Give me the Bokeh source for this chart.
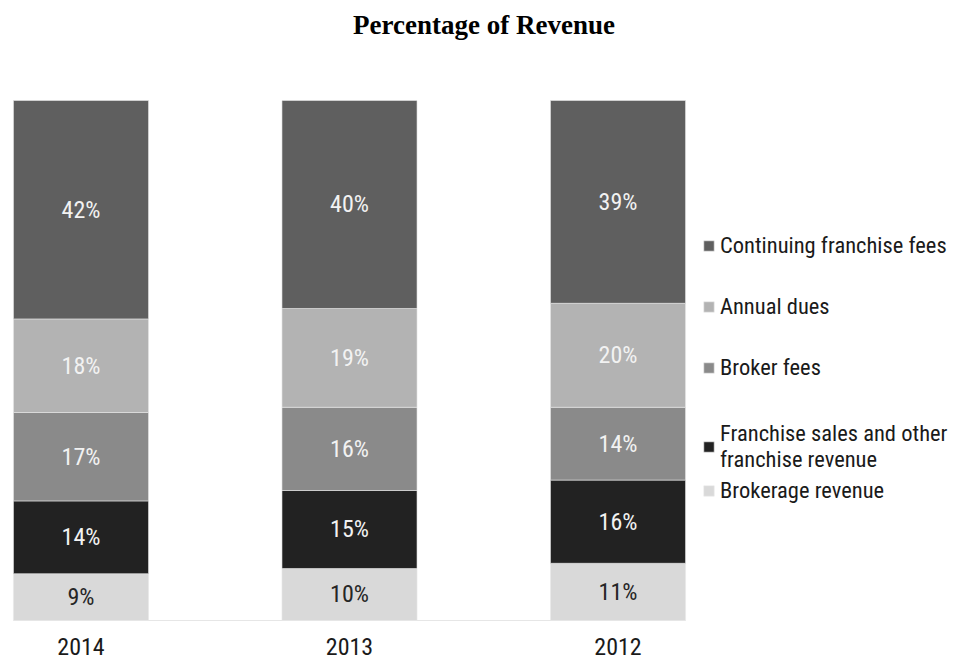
from bokeh.plotting import figure
from bokeh.models import ColumnDataSource, Range1d, Legend, LegendItem, Label
from bokeh.core.properties import value
from bokeh.embed import file_html
from bokeh.resources import INLINE

years = ["2014", "2013", "2012"]
series_names = ["Brokerage revenue", "Franchise sales and other\nfranchise revenue",
                "Broker fees", "Annual dues", "Continuing franchise fees"]
brokerage_revenue = [9, 10, 11]
franchise_sales = [14, 15, 16]
broker_fees = [17, 16, 14]
annual_dues = [18, 19, 20]
continuing_fees = [42, 40, 39]

colors = ["#d9d9d9", "#222222", "#8a8a8a", "#b3b3b3", "#5f5f5f"]
label_colors = ["#262626", "#f2f2f2", "#f2f2f2", "#f2f2f2", "#f2f2f2"]
FONT = "'Roboto Condensed', 'Liberation Sans Narrow', 'Arial Narrow', 'DejaVu Sans Condensed', Roboto"

keys = ["brokerage", "franchise", "broker", "dues", "continuing"]
series = [brokerage_revenue, franchise_sales, broker_fees, annual_dues, continuing_fees]
xs = list(range(len(years)))
data = {"x": xs}
for k, s in zip(keys, series):
    data[k] = s
source = ColumnDataSource(data)

W, H = 957, 662
p = figure(width=W, height=H, output_backend="svg", toolbar_location=None,
           x_range=Range1d(-0.2998, 3.2644), y_range=Range1d(-8.077, 119.23),
           x_axis_location=None, y_axis_location=None, min_border=0)
p.outline_line_color = None
p.grid.visible = False

bar_w = 0.503
renderers = p.vbar_stack(keys, x="x", width=bar_w, color=colors, source=source,
                         line_color="#e8e8e8", line_width=0.6)

# baseline
p.segment(x0=[min(xs) - bar_w / 2], y0=[0], x1=[max(xs) + bar_w / 2], y1=[0],
          line_color="#e6e6e6", line_width=1)

# value labels
lx, ly, lt, lc = [], [], [], []
for i in xs:
    base = 0
    for s, c in zip(series, label_colors):
        v = s[i]
        lx.append(i)
        ly.append(base + v / 2)
        lt.append(f"{v}%")
        lc.append(c)
        base += v
p.text(x=lx, y=ly, text=lt, text_color=lc, text_align="center", text_baseline="middle",
       text_font=value(FONT), text_font_size="24px")

# year labels
p.text(x=xs, y=[0] * len(xs), text=years, text_align="center", text_baseline="middle",
       y_offset=26, text_font=value(FONT), text_font_size="24px", text_color="#1a1a1a")

# legend (top to bottom: continuing first), split in two blocks
def make_legend(idx, loc, spacing):
    items = [LegendItem(label=series_names[i], renderers=[renderers[i]]) for i in idx]
    lg = Legend(items=items, location=loc, padding=0, margin=0,
                glyph_width=13, glyph_height=13, label_standoff=5, spacing=spacing,
                label_text_font=FONT, label_text_font_size="22.5px",
                label_text_color="#1a1a1a", border_line_color=None,
                background_fill_alpha=0)
    p.add_layout(lg)

make_legend([4, 3, 2], (702, 282), 35)
make_legend([1, 0], (702, 159), 5)

title = Label(x=483.5, y=638, x_units="screen", y_units="screen",
              text="Percentage of Revenue", text_align="center", text_baseline="middle",
              text_font="Liberation Serif", text_font_style="bold", text_font_size="27px",
              text_color="#000000")
p.add_layout(title)

open("out.html", "w").write(file_html(p, INLINE))
